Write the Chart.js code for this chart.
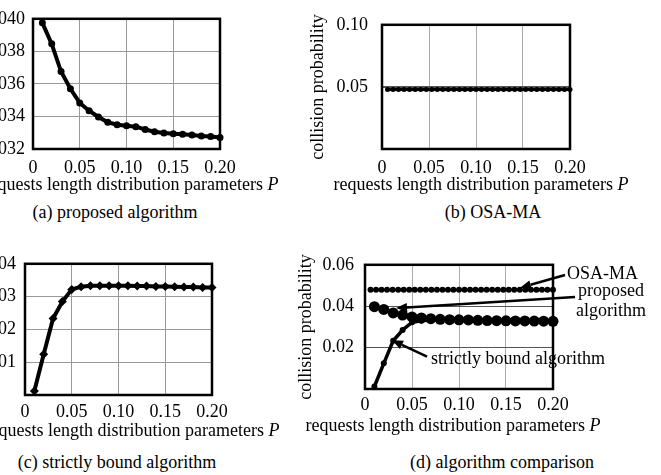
<!DOCTYPE html>
<html>
<head>
<meta charset="utf-8">
<script src="https://cdn.jsdelivr.net/npm/chart.js@4.4.1/dist/chart.umd.min.js"></script>
<style>
  body { margin: 0; width: 661px; height: 475px; overflow: hidden; background: #fff; position: relative;
         font-family: "Liberation Serif", "Times New Roman", serif; }
  canvas { position: absolute; }
  .lbl { position: absolute; font-size: 18px; line-height: 20px; white-space: nowrap; transform: translateX(-50%); color: #000; }
</style>
</head>
<body>
<canvas id="chartA"></canvas>
<canvas id="chartB"></canvas>
<canvas id="chartC"></canvas>
<canvas id="chartD"></canvas>

<div class="lbl" style="left:131px;top:174px">requests length distribution parameters <i>P</i></div>
<div class="lbl" style="left:481px;top:174px">requests length distribution parameters <i>P</i></div>
<div class="lbl" style="left:132px;top:420px">requests length distribution parameters <i>P</i></div>
<div class="lbl" style="left:453px;top:415px">requests length distribution parameters <i>P</i></div>

<div class="lbl" style="left:115px;top:202px">(a) proposed algorithm</div>
<div class="lbl" style="left:493px;top:202px">(b) OSA-MA</div>
<div class="lbl" style="left:117px;top:452px">(c) strictly bound algorithm</div>
<div class="lbl" style="left:502px;top:452px">(d) algorithm comparison</div>

<script>
// requests length distribution parameter P
const pValues = [0.01, 0.02, 0.03, 0.04, 0.05, 0.06, 0.07, 0.08, 0.09, 0.10,
                 0.11, 0.12, 0.13, 0.14, 0.15, 0.16, 0.17, 0.18, 0.19, 0.20];
const osaP = [0.0059, 0.0118, 0.0176, 0.0235, 0.0294, 0.0353, 0.0412, 0.0471, 0.0529, 0.0588,
              0.0647, 0.0706, 0.0765, 0.0824, 0.0882, 0.0941, 0.1000, 0.1059, 0.1118, 0.1176,
              0.1235, 0.1294, 0.1353, 0.1412, 0.1471, 0.1529, 0.1588, 0.1647, 0.1706, 0.1765,
              0.1824, 0.1882, 0.1941, 0.2000];

// collision probability
const proposedProb = [0.03975, 0.03846, 0.03676, 0.0357, 0.03483, 0.03435, 0.03397, 0.03364, 0.03349, 0.03343,
                      0.03337, 0.0332, 0.03306, 0.03298, 0.03294, 0.0329, 0.03286, 0.0328, 0.03277, 0.0327];
const strictProb = [0.0012, 0.0124, 0.0233, 0.0285, 0.0322, 0.0330, 0.0333, 0.0333, 0.0333, 0.0333,
                    0.0333, 0.0332, 0.0332, 0.0331, 0.0331, 0.0330, 0.0329, 0.0329, 0.0328, 0.0328];
const osaProb = [0.048, 0.048, 0.048, 0.048, 0.048, 0.048, 0.048, 0.048, 0.048, 0.048,
                 0.048, 0.048, 0.048, 0.048, 0.048, 0.048, 0.048, 0.048, 0.048, 0.048,
                 0.048, 0.048, 0.048, 0.048, 0.048, 0.048, 0.048, 0.048, 0.048, 0.048,
                 0.048, 0.048, 0.048, 0.048];

// tick labels
const xTickLabels = ['0', '0.05', '0.10', '0.15', '0.20'];
const yTicksA = ['0.032', '0.034', '0.036', '0.038', '0.040'];
const yTicksB = ['', '0.05', '0.10'];
const yTicksC = ['', '0.01', '0.02', '0.03', '0.04'];
const yTicksD = ['', '0.02', '0.04', '0.06'];

Chart.defaults.font.family = '"Liberation Serif", "Times New Roman", serif';
Chart.defaults.font.size = 18;
Chart.defaults.color = '#000';

const pts = (xs, ys) => xs.map((x, i) => ({ x: x, y: ys[i] }));

const frame = {
  id: 'frame',
  beforeDatasetsDraw(chart) {
    const a = chart.chartArea, ctx = chart.ctx;
    ctx.save();
    ctx.strokeStyle = '#000';
    ctx.lineWidth = 2.5;
    ctx.strokeRect(a.left, a.top, a.right - a.left, a.bottom - a.top);
    ctx.restore();
  }
};

function panel(id, area, opts) {
  const axisW = 82, padTop = 11, axisH = 30;
  const padRight = opts.padRight || 25;
  const left = area.l - axisW, top = area.t - padTop;
  const cv = document.getElementById(id);
  cv.width = area.r - left + padRight;
  cv.height = area.b - top + axisH;
  cv.style.left = left + 'px';
  cv.style.top = top + 'px';

  return new Chart(cv, {
    type: 'line',
    data: { datasets: opts.datasets },
    options: {
      responsive: false,
      animation: false,
      devicePixelRatio: 1,
      layout: { padding: { top: padTop, right: padRight, left: 0, bottom: 0 } },
      plugins: { legend: { display: false }, tooltip: { enabled: false } },
      scales: {
        x: {
          type: 'linear', min: 0, max: 0.2,
          afterFit: s => { s.height = axisH; },
          border: { display: false },
          grid: { color: opts.xGrid, lineWidth: 1, drawTicks: false },
          ticks: { stepSize: 0.05, padding: opts.xPad, maxRotation: 0,
                   callback: (v, i) => xTickLabels[i] }
        },
        y: {
          type: 'linear', min: opts.yMin, max: opts.yMax,
          afterFit: s => { s.width = axisW; },
          border: { display: false },
          grid: { color: opts.yGrid, lineWidth: opts.yGridW || 1, drawTicks: false },
          ticks: { stepSize: opts.yStep, padding: opts.yPad,
                   callback: (v, i) => opts.yLabels[i] },
          title: { display: true, text: 'collision probability',
                   padding: { top: opts.titlePad || 7, bottom: 0 } }
        }
      }
    },
    plugins: [frame].concat(opts.plugins || [])
  });
}

function line(data, width, radius, style) {
  return {
    data: data, borderColor: '#000', backgroundColor: '#000', borderWidth: width,
    pointRadius: radius, pointStyle: style || 'circle', pointBorderWidth: 0,
    pointBackgroundColor: '#000', tension: 0, clip: false
  };
}

// (a) proposed algorithm
panel('chartA', { l: 33, r: 220, t: 11, b: 149 }, {
  yMin: 0.032, yMax: 0.040, yStep: 0.002, yLabels: yTicksA, yPad: 8, xPad: 8,
  xGrid: '#999', yGrid: '#999',
  datasets: [line(pts(pValues, proposedProb), 4, 3.5)]
});

// (b) OSA-MA
panel('chartB', { l: 382, r: 570, t: 11, b: 149 }, {
  yMin: 0, yMax: 0.10, yStep: 0.05, yLabels: yTicksB, yPad: 14, xPad: 8,
  xGrid: '#aaa', yGrid: '#555', yGridW: 2,
  datasets: [line(pts(osaP, osaProb), 3, 2.5)]
});

// (c) strictly bound algorithm
panel('chartC', { l: 25, r: 212, t: 255, b: 395 }, {
  yMin: 0, yMax: 0.04, yStep: 0.01, yLabels: yTicksC, yPad: 9, xPad: 6,
  xGrid: '#999', yGrid: '#999',
  datasets: [line(pts(pValues, strictProb), 4, 4.5, 'rectRot')]
});

// (d) algorithm comparison, annotations placed in data units
const notes = [
  { lines: ['OSA-MA'], at: [0.2149, 0.0556], align: 'left', tail: [0.2128, 0.0551], tip: [0.1649, 0.0489] },
  { lines: ['proposed', 'algorithm'], at: [0.2617, 0.0471], align: 'center', tail: [0.2234, 0.0444], tip: [0.033, 0.0391] },
  { lines: ['strictly bound algorithm'], at: [0.1628, 0.0142], align: 'center', tail: [0.066, 0.0156], tip: [0.0287, 0.0236] }
];

const annotate = {
  id: 'annotate',
  afterDatasetsDraw(chart) {
    const ctx = chart.ctx, xs = chart.scales.x, ys = chart.scales.y;
    ctx.save();
    ctx.fillStyle = '#000';
    ctx.strokeStyle = '#000';
    ctx.font = '18px "Liberation Serif", "Times New Roman", serif';
    ctx.textBaseline = 'middle';
    notes.forEach(n => {
      const tx = xs.getPixelForValue(n.at[0]), ty = ys.getPixelForValue(n.at[1]);
      ctx.textAlign = n.align;
      n.lines.forEach((t, k) => ctx.fillText(t, tx, ty + k * 20));
      const x0 = xs.getPixelForValue(n.tail[0]), y0 = ys.getPixelForValue(n.tail[1]);
      const x1 = xs.getPixelForValue(n.tip[0]), y1 = ys.getPixelForValue(n.tip[1]);
      const ang = Math.atan2(y1 - y0, x1 - x0);
      const hl = 11, hw = 4.5;
      const bx = x1 - hl * Math.cos(ang), by = y1 - hl * Math.sin(ang);
      ctx.lineWidth = 2.5;
      ctx.beginPath();
      ctx.moveTo(x0, y0);
      ctx.lineTo(bx, by);
      ctx.stroke();
      ctx.beginPath();
      ctx.moveTo(x1, y1);
      ctx.lineTo(bx + hw * Math.sin(ang), by - hw * Math.cos(ang));
      ctx.lineTo(bx - hw * Math.sin(ang), by + hw * Math.cos(ang));
      ctx.closePath();
      ctx.fill();
    });
    ctx.restore();
  }
};

panel('chartD', { l: 365, r: 553, t: 254, b: 389 }, {
  yMin: 0, yMax: 0.06, yStep: 0.02, yLabels: yTicksD, yPad: 11, xPad: 5,
  xGrid: '#aaa', yGrid: '#555', padRight: 108, titlePad: 12,
  datasets: [
    line(pts(osaP, osaProb), 2, 3),
    line(pts(pValues, proposedProb), 2, 5.5),
    line(pts(pValues, strictProb), 3.5, 3)
  ],
  plugins: [annotate]
});
</script>
</body>
</html>
